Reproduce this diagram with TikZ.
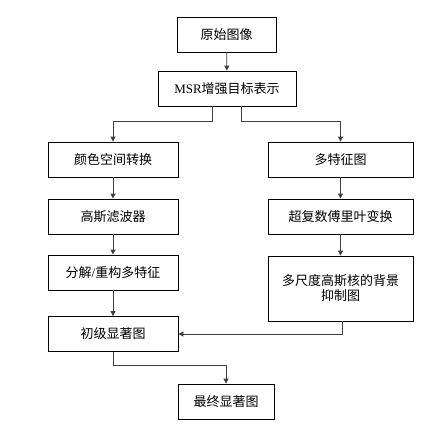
\documentclass[tikz,border=0pt]{standalone}
\usepackage{fontspec}
\setmainfont{Liberation Serif}
\newfontfamily\cjk{Noto Sans CJK SC}
\usetikzlibrary{arrows.meta, positioning}

\begin{document}
\begin{tikzpicture}[x=1pt, y=-1pt,
   box/.style = {draw, line width=0.8pt, inner sep=0pt, align=center,
      minimum height=35pt, font=\cjk\fontsize{13}{15}\selectfont},
   line/.style = {draw=black!75, line width=0.8pt},
   arr/.style = {line, -{Triangle[length=5pt, width=5pt]}}]
   \useasboundingbox (0,0) rectangle (433,429);

   \node[box, minimum width=99pt]  (src)   at (226.5,34.5) {原始图像};
   \node[box, minimum width=138pt] (msr)   at (227,88.5)   {{\rmfamily MSR}增强目标表示};
   % left branch
   \node[box, minimum width=130pt] (color) at (113,159.5)  {颜色空间转换};
   \node[box, minimum width=130pt] (gauss) at (113,216.5)  {高斯滤波器};
   \node[box, minimum width=130pt] (decom) at (113,272.5)  {分解{\rmfamily /}重构多特征};
   \node[box, minimum width=130pt] (prim)  at (113,334)    {初级显著图};
   % right branch
   \node[box, minimum width=145pt] (feat)  at (340.5,159.5) {多特征图};
   \node[box, minimum width=145pt] (hft)   at (340.5,216.5) {超复数傅里叶变换};
   \node[box, minimum width=145pt, minimum height=65pt] (bg) at (340.5,288.5)
      {多尺度高斯核的背景\\抑制图};
   \node[box, minimum width=96pt]  (final) at (226,401.5)  {最终显著图};

   \draw[arr] (src) -- (msr);
   \draw[arr] ([xshift=-15pt]msr.south) -- ++(0,15) -| (color);
   \draw[arr] ([xshift=14pt]msr.south) -- ++(0,15) -| (feat);
   %
   \draw[arr] (color) -- (gauss);
   \draw[arr] (gauss) -- (decom);
   \draw[arr] (decom) -- (prim);
   %
   \draw[arr] (feat) -- (hft);
   \draw[arr] (hft) -- (bg);
   \draw[arr] ([xshift=1.5pt]bg.south) |- (prim);
   %
   \draw[arr] (prim.south) -- ++(0,13) -| (final);
\end{tikzpicture}
\end{document}
